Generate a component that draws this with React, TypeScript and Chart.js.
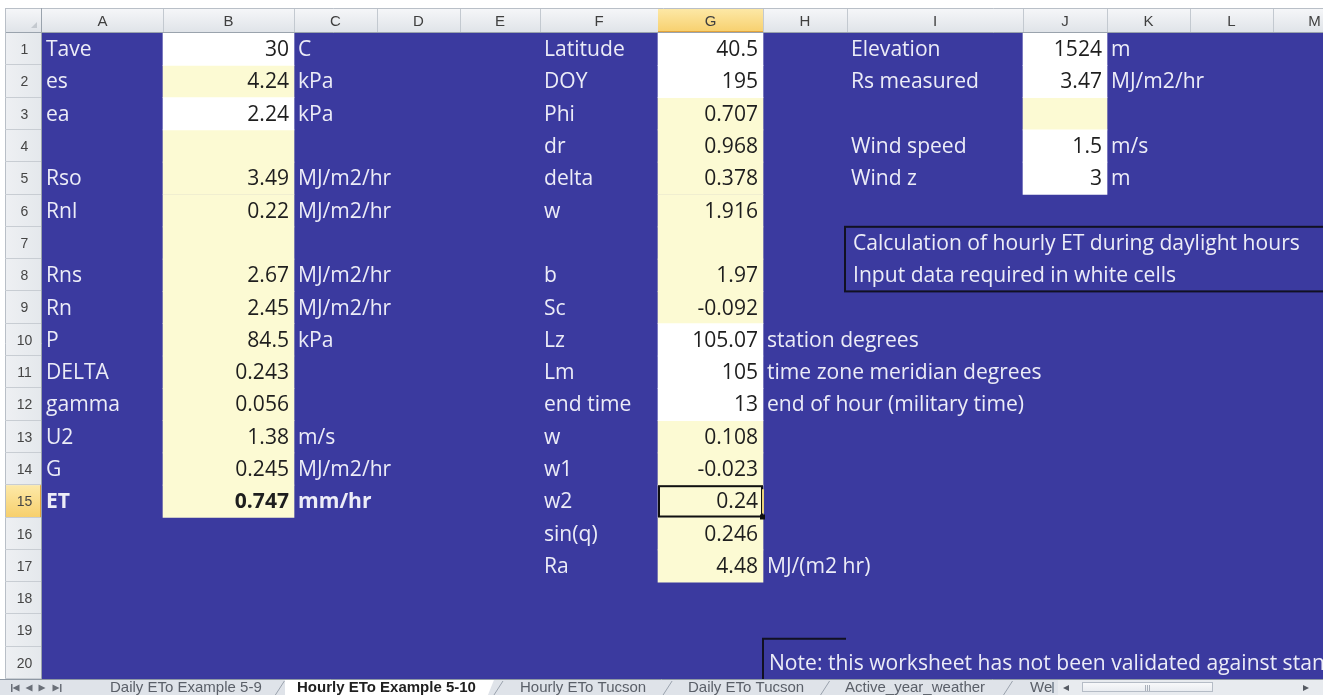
import React, { useEffect, useRef } from 'react';
import { Chart, registerables } from 'chart.js';
Chart.register(...registerables);

// ---- sheet structure ----
const columnLetters = ['A', 'B', 'C', 'D', 'E', 'F', 'G', 'H', 'I', 'J', 'K', 'L', 'M'];
const rowNumbers = ['1', '2', '3', '4', '5', '6', '7', '8', '9', '10', '11', '12', '13', '14', '15', '16', '17', '18', '19', '20'];

// ---- cell contents ----
const colA = ['Tave', 'es', 'ea', '', 'Rso', 'Rnl', '', 'Rns', 'Rn', 'P', 'DELTA', 'gamma', 'U2', 'G', 'ET'];
const colB = ['30', '4.24', '2.24', '', '3.49', '0.22', '', '2.67', '2.45', '84.5', '0.243', '0.056', '1.38', '0.245', '0.747'];
const colC = ['C', 'kPa', 'kPa', '', 'MJ/m2/hr', 'MJ/m2/hr', '', 'MJ/m2/hr', 'MJ/m2/hr', 'kPa', '', '', 'm/s', 'MJ/m2/hr', 'mm/hr'];
const colF = ['Latitude', 'DOY', 'Phi', 'dr', 'delta', 'w', '', 'b', 'Sc', 'Lz', 'Lm', 'end time', 'w', 'w1', 'w2', 'sin(q)', 'Ra'];
const colG = ['40.5', '195', '0.707', '0.968', '0.378', '1.916', '', '1.97', '-0.092', '105.07', '105', '13', '0.108', '-0.023', '0.24', '0.246', '4.48'];
const colH = ['', '', '', '', '', '', '', '', '', 'station degrees', 'time zone meridian degrees', 'end of hour (military time)', '', '', '', '', 'MJ/(m2 hr)'];
const colI = ['Elevation', 'Rs measured', '', 'Wind speed', 'Wind z'];
const colJ = ['1524', '3.47', '', '1.5', '3'];
const colK = ['m', 'MJ/m2/hr', '', 'm/s', 'm'];

// cell kinds: w = input (white), y = computed (yellow)
const colBFill = ['w', 'y', 'w', 'y', 'y', 'y', 'y', 'y', 'y', 'y', 'y', 'y', 'y', 'y', 'y'];
const colGFill = ['w', 'w', 'y', 'y', 'y', 'y', 'y', 'y', 'y', 'w', 'w', 'w', 'y', 'y', 'y', 'y', 'y'];
const colJFill = ['w', 'w', 'y', 'w', 'w'];

const boxLines = ['Calculation of hourly ET during daylight hours', 'Input data required in white cells'];
const noteText = 'Note: this worksheet has not been validated against standard';
const sheetTabs = ['Daily ETo Example 5-9', 'Hourly ETo Example 5-10', 'Hourly ETo Tucson', 'Daily ETo Tucson', 'Active_year_weather', 'Weather'];
const activeTab = 1;
const boldRow = 15;
const boldCols = ['A', 'B', 'C'];
const selectedCol = 'G';
const selectedRow = 15;

// ---- layout / style ----
const COL_W = [121, 131, 83, 83, 80, 118, 105, 84, 176, 84, 83, 83, 83];
const TAB_X = [110, 297, 520, 688, 845, 1030];
const BOX_LINE_WIDTH = 447; // measured width of first text-box line
const BLUE = '#3b3a9f';
const YELLOW = '#fcfad3';
const WHITE = '#ffffff';
const LIGHT_TEXT = '#ececf7';
const DARK_TEXT = '#1e1e1e';
const CELL_FONT = '"Open Sans", "Lato", sans-serif';
const UI_FONT = '"Liberation Sans", Arial, sans-serif';

const colStart = (letter: string) => {
  const idx = columnLetters.indexOf(letter);
  let s = 0;
  for (let i = 0; i < idx; i++) s += COL_W[i];
  return s;
};
const colEnd = (letter: string) => colStart(letter) + COL_W[columnLetters.indexOf(letter)];

const cellsOf = (fill: string[], letter: string, code: string) =>
  fill
    .map((f, r) => (f === code ? { y: rowNumbers[r], x: [colStart(letter), colEnd(letter)] } : null))
    .filter(Boolean);

const whiteCells = [...cellsOf(colBFill, 'B', 'w'), ...cellsOf(colGFill, 'G', 'w'), ...cellsOf(colJFill, 'J', 'w')];
const yellowCells = [...cellsOf(colBFill, 'B', 'y'), ...cellsOf(colGFill, 'G', 'y'), ...cellsOf(colJFill, 'J', 'y')];

const textColumns: { letter: string; values: string[]; align: 'left' | 'right'; onFill: boolean }[] = [
  { letter: 'A', values: colA, align: 'left', onFill: false },
  { letter: 'B', values: colB, align: 'right', onFill: true },
  { letter: 'C', values: colC, align: 'left', onFill: false },
  { letter: 'F', values: colF, align: 'left', onFill: false },
  { letter: 'G', values: colG, align: 'right', onFill: true },
  { letter: 'H', values: colH, align: 'left', onFill: false },
  { letter: 'I', values: colI, align: 'left', onFill: false },
  { letter: 'J', values: colJ, align: 'right', onFill: true },
  { letter: 'K', values: colK, align: 'left', onFill: false },
];

function tri(ctx: CanvasRenderingContext2D, x: number, y: number, dir: number, s = 3.5) {
  ctx.beginPath();
  ctx.moveTo(x + dir * s, y);
  ctx.lineTo(x - dir * s, y - s);
  ctx.lineTo(x - dir * s, y + s);
  ctx.closePath();
  ctx.fill();
}

const sheetPlugin = {
  id: 'sheet',
  beforeDraw(chart: any) {
    const { ctx, width, height, chartArea: a } = chart;
    ctx.save();
    ctx.fillStyle = '#ffffff';
    ctx.fillRect(0, 0, width, height);
    ctx.fillStyle = BLUE;
    ctx.fillRect(a.left, a.top, a.right - a.left, a.bottom - a.top);
    ctx.restore();
  },
  afterDatasetsDraw(chart: any) {
    const { ctx, width, height, chartArea: a } = chart;
    const xs = chart.scales.x;
    const ys = chart.scales.y;
    const rowH = (a.bottom - a.top) / rowNumbers.length;
    const px = (v: number) => xs.getPixelForValue(v);
    const rowC = (r: number) => ys.getPixelForValue(r - 1);
    const rowTop = (r: number) => rowC(r) - rowH / 2;

    ctx.save();
    // font size fitted so the text box line has the reference width
    ctx.font = `20px ${CELL_FONT}`;
    const fs = (20 * BOX_LINE_WIDTH) / ctx.measureText(boxLines[0]).width;

    // ---- cell texts ----
    ctx.textBaseline = 'middle';
    for (const col of textColumns) {
      const l = px(colStart(col.letter));
      const r = px(colEnd(col.letter));
      col.values.forEach((v, i) => {
        if (!v) return;
        const row = i + 1;
        const bold = row === boldRow && boldCols.includes(col.letter);
        ctx.font = `${bold ? 'bold ' : ''}${fs.toFixed(2)}px ${CELL_FONT}`;
        ctx.fillStyle = col.onFill ? DARK_TEXT : LIGHT_TEXT;
        if (col.align === 'right') {
          ctx.textAlign = 'right';
          ctx.fillText(v, r - 5, rowC(row) + 1);
        } else {
          ctx.textAlign = 'left';
          ctx.fillText(v, l + 4, rowC(row) + 1);
        }
      });
    }

    // ---- text box (rows 7-8) ----
    const bx = px(colStart('I')) - 2;
    const by = rowTop(7);
    const bh = rowH * 2;
    ctx.strokeStyle = '#111122';
    ctx.lineWidth = 2;
    ctx.strokeRect(bx, by, width + 20 - bx, bh);
    ctx.font = `${fs.toFixed(2)}px ${CELL_FONT}`;
    ctx.fillStyle = LIGHT_TEXT;
    ctx.textAlign = 'left';
    boxLines.forEach((t, i) => ctx.fillText(t, bx + 8, rowC(7 + i) + 1));

    // ---- note box (row 20) ----
    const nx = px(colStart('H'));
    const ny = rowTop(20) - 8;
    ctx.beginPath();
    ctx.moveTo(nx, a.bottom + 2);
    ctx.lineTo(nx, ny);
    ctx.lineTo(px(colEnd('H')) - 1, ny);
    ctx.stroke();
    ctx.save();
    ctx.beginPath();
    ctx.rect(a.left, a.top, a.right - a.left, a.bottom - a.top);
    ctx.clip();
    ctx.fillText(noteText, nx + 6, rowC(20) + 1);
    ctx.restore();

    // ---- selected cell ----
    const sx1 = px(colStart(selectedCol));
    const sx2 = px(colEnd(selectedCol));
    const sy = rowTop(selectedRow);
    ctx.strokeStyle = '#101010';
    ctx.lineWidth = 2;
    ctx.strokeRect(sx1 + 1, sy + 1, sx2 - sx1 - 2, rowH - 2);
    ctx.fillStyle = '#101010';
    ctx.fillRect(sx2 - 3, sy + rowH - 3, 5, 5);
    ctx.fillStyle = '#e8d07a';
    ctx.fillRect(sx2 - 1, sy + 4, 2, rowH - 8);

    // ---- column headers ----
    const hTop = 8;
    const hBot = a.top;
    const hg = ctx.createLinearGradient(0, hTop, 0, hBot);
    hg.addColorStop(0, '#f6f7f9');
    hg.addColorStop(1, '#dfe3e8');
    ctx.fillStyle = '#ffffff';
    ctx.fillRect(0, 0, width, hTop);
    ctx.fillStyle = hg;
    ctx.fillRect(4, hTop, width - 4, hBot - hTop);
    ctx.strokeStyle = '#b9bfc7';
    ctx.lineWidth = 1;
    ctx.beginPath();
    ctx.moveTo(4, hTop + 0.5);
    ctx.lineTo(width, hTop + 0.5);
    ctx.stroke();
    ctx.font = `15px ${UI_FONT}`;
    ctx.textAlign = 'center';
    columnLetters.forEach((c) => {
      const l = px(colStart(c));
      const r = px(colEnd(c));
      if (c === selectedCol) {
        const sg = ctx.createLinearGradient(0, hTop, 0, hBot);
        sg.addColorStop(0, '#fde9a8');
        sg.addColorStop(1, '#f7cf6c');
        ctx.fillStyle = sg;
        ctx.fillRect(l, hTop + 1, r - l, hBot - hTop - 1);
        ctx.fillStyle = '#e3a43a';
        ctx.fillRect(l, hBot - 2, r - l, 2);
      }
      ctx.strokeStyle = '#c3c9d0';
      ctx.beginPath();
      ctx.moveTo(Math.round(r) + 0.5, hTop + 1);
      ctx.lineTo(Math.round(r) + 0.5, hBot);
      ctx.stroke();
      ctx.fillStyle = '#3f3f3f';
      ctx.fillText(c, (l + r) / 2, (hTop + hBot) / 2 + 1);
    });
    ctx.strokeStyle = '#9aa3ad';
    ctx.beginPath();
    ctx.moveTo(4, hBot - 0.5);
    ctx.lineTo(width, hBot - 0.5);
    ctx.stroke();

    // ---- row headers ----
    const rl = 5;
    const rr = a.left;
    ctx.fillStyle = '#ffffff';
    ctx.fillRect(0, hTop, rl, height - hTop);
    const rg = ctx.createLinearGradient(rl, 0, rr, 0);
    rg.addColorStop(0, '#eef0f3');
    rg.addColorStop(1, '#e4e8ec');
    ctx.fillStyle = rg;
    ctx.fillRect(rl, hBot, rr - rl, a.bottom - hBot);
    // corner
    ctx.fillStyle = hg;
    ctx.fillRect(rl, hTop + 1, rr - rl, hBot - hTop - 2);
    ctx.fillStyle = '#c4c9cf';
    ctx.beginPath();
    ctx.moveTo(rr - 5, hBot - 11);
    ctx.lineTo(rr - 5, hBot - 5);
    ctx.lineTo(rr - 11, hBot - 5);
    ctx.closePath();
    ctx.fill();
    ctx.strokeStyle = '#b9bfc7';
    ctx.beginPath();
    ctx.moveTo(rl + 0.5, hTop);
    ctx.lineTo(rl + 0.5, a.bottom);
    ctx.stroke();
    ctx.font = `14px ${UI_FONT}`;
    rowNumbers.forEach((n, i) => {
      const t = rowTop(i + 1);
      if (i + 1 === selectedRow) {
        const sg = ctx.createLinearGradient(0, t, 0, t + rowH);
        sg.addColorStop(0, '#fde9a8');
        sg.addColorStop(1, '#f7cf6c');
        ctx.fillStyle = sg;
        ctx.fillRect(rl + 1, t, rr - rl - 1, rowH);
        ctx.fillStyle = '#e3a43a';
        ctx.fillRect(rr - 2, t, 2, rowH);
      }
      ctx.strokeStyle = '#c8cdd3';
      ctx.beginPath();
      ctx.moveTo(rl, Math.round(t + rowH) - 0.5);
      ctx.lineTo(rr, Math.round(t + rowH) - 0.5);
      ctx.stroke();
      ctx.fillStyle = '#454545';
      ctx.textAlign = 'center';
      ctx.fillText(n, (rl + rr) / 2 + 1, t + rowH / 2 + 1);
    });
    ctx.strokeStyle = '#9aa3ad';
    ctx.beginPath();
    ctx.moveTo(rr - 0.5, hTop);
    ctx.lineTo(rr - 0.5, a.bottom);
    ctx.stroke();

    // ---- sheet tab bar ----
    const tTop = a.bottom;
    const tBot = height;
    const tMid = (tTop + tBot) / 2 + 1;
    ctx.fillStyle = '#dfe3e9';
    ctx.fillRect(0, tTop, width, tBot - tTop);
    ctx.strokeStyle = '#8e98a4';
    ctx.beginPath();
    ctx.moveTo(0, tTop + 0.5);
    ctx.lineTo(width, tTop + 0.5);
    ctx.stroke();
    ctx.fillStyle = '#6a6f78';
    ctx.fillRect(11, tMid - 4, 1.5, 8);
    tri(ctx, 16, tMid, -1);
    tri(ctx, 29, tMid, -1);
    tri(ctx, 42, tMid, 1);
    tri(ctx, 56, tMid, 1);
    ctx.fillRect(60, tMid - 4, 1.5, 8);

    ctx.save();
    ctx.beginPath();
    ctx.rect(0, tTop, 1052, tBot - tTop);
    ctx.clip();
    sheetTabs.forEach((name, i) => {
      const x = TAB_X[i];
      const active = i === activeTab;
      ctx.font = `${active ? 'bold ' : ''}15px ${UI_FONT}`;
      const w = ctx.measureText(name).width;
      if (active) {
        ctx.fillStyle = '#ffffff';
        ctx.beginPath();
        ctx.moveTo(x - 12, tTop + 1);
        ctx.lineTo(x + w + 18, tTop + 1);
        ctx.lineTo(x + w + 12, tBot);
        ctx.lineTo(x - 12, tBot);
        ctx.closePath();
        ctx.fill();
      }
      ctx.fillStyle = active ? '#1f1f1f' : '#5a5f68';
      ctx.textAlign = 'left';
      ctx.fillText(name, x, tMid);
      if (i < sheetTabs.length - 1) {
        const sx = (x + w + TAB_X[i + 1]) / 2;
        ctx.strokeStyle = '#9aa2ad';
        ctx.beginPath();
        ctx.moveTo(sx - 4, tBot);
        ctx.lineTo(sx + 5, tTop + 2);
        ctx.stroke();
      }
    });
    ctx.restore();
    // tab/scroll divider
    ctx.fillStyle = '#8e98a4';
    ctx.fillRect(1052, tTop + 3, 2, tBot - tTop - 5);
    // scrollbar
    ctx.fillStyle = '#e8ebef';
    ctx.fillRect(1058, tTop + 1, width - 1058, tBot - tTop - 1);
    ctx.fillStyle = '#555a62';
    tri(ctx, 1066, tMid, -1, 3);
    tri(ctx, 1306, tMid, 1, 3);
    const sgr = ctx.createLinearGradient(0, tTop, 0, tBot);
    sgr.addColorStop(0, '#ffffff');
    sgr.addColorStop(1, '#e3e7ec');
    ctx.fillStyle = sgr;
    ctx.fillRect(1082, tTop + 3, 130, tBot - tTop - 6);
    ctx.strokeStyle = '#b5bcc6';
    ctx.strokeRect(1082.5, tTop + 3.5, 130, tBot - tTop - 7);
    ctx.strokeStyle = '#a9b0ba';
    for (let k = -2; k <= 2; k += 2) {
      ctx.beginPath();
      ctx.moveTo(1147 + k + 0.5, tMid - 3);
      ctx.lineTo(1147 + k + 0.5, tMid + 3);
      ctx.stroke();
    }
    ctx.restore();
  },
};

export default function App() {
  const ref = useRef<HTMLCanvasElement>(null);
  useEffect(() => {
    document.body.style.margin = '0';
    const canvas = ref.current!;
    const chart = new Chart(canvas, {
      type: 'bar',
      data: {
        labels: rowNumbers,
        datasets: [
          { label: 'Input cells', data: whiteCells as any, backgroundColor: WHITE, borderWidth: 0 },
          { label: 'Computed cells', data: yellowCells as any, backgroundColor: YELLOW, borderWidth: 0 },
        ],
      },
      options: {
        indexAxis: 'y',
        responsive: false,
        animation: false,
        events: [],
        layout: { padding: { left: 42, top: 33, right: 0, bottom: 16 } },
        datasets: { bar: { barPercentage: 1, categoryPercentage: 1, grouped: false } } as any,
        scales: {
          x: { type: 'linear', min: 0, max: 1281, display: false },
          y: { type: 'category', display: false, offset: true, grid: { display: false } },
        },
        plugins: { legend: { display: false }, tooltip: { enabled: false } },
      },
      plugins: [sheetPlugin as any],
    });
    return () => chart.destroy();
  }, []);
  return <canvas ref={ref} width={1323} height={695} style={{ display: 'block' }} />;
}
